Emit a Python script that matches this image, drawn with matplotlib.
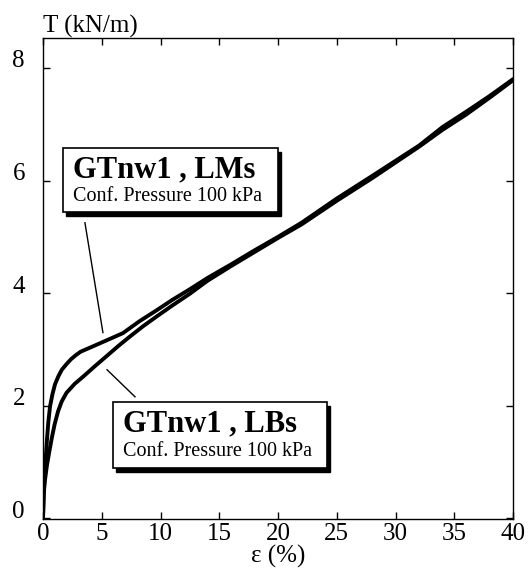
import matplotlib.pyplot as plt
import matplotlib.transforms as mtransforms
from matplotlib.patches import Rectangle

# strain (%) and tensile force (kN/m)
lms_eps = [0, 0.08, 0.18, 0.34, 0.45, 0.6, 0.8, 1.02, 1.3, 1.6, 2.0, 2.4,
           2.8, 3.2, 4.3, 5.5, 6.8, 8.2, 9.7, 11, 12.5, 14, 16, 18, 20, 22,
           25, 28, 30, 32, 34, 36, 38, 40]
lms_T = [0, 0.5, 0.9, 1.4, 1.7, 1.99, 2.2, 2.38, 2.52, 2.64, 2.74, 2.83,
         2.9, 2.96, 3.06, 3.17, 3.29, 3.5, 3.7, 3.88, 4.07, 4.27, 4.51, 4.76,
         5.0, 5.25, 5.68, 6.08, 6.35, 6.62, 6.95, 7.22, 7.5, 7.8]

lbs_eps = [0, 0.05, 0.15, 0.34, 0.55, 0.77, 1.0, 1.28, 1.6, 2.0, 2.7, 3.43,
           4.4, 5.4, 6.4, 7.4, 8.5, 9.7, 11, 12.5, 14, 16, 18, 20, 22, 25, 28,
           30, 32, 34, 36, 38, 40]
lbs_T = [0, 0.4, 0.65, 0.95, 1.2, 1.45, 1.68, 1.9, 2.08, 2.23, 2.39, 2.52,
         2.70, 2.88, 3.06, 3.23, 3.41, 3.59, 3.78, 3.99, 4.22, 4.48, 4.73,
         4.98, 5.22, 5.64, 6.04, 6.32, 6.6, 6.9, 7.17, 7.47, 7.78]

x_ticks = [0, 5, 10, 15, 20, 25, 30, 35, 40]
y_ticks = [0, 2, 4, 6, 8]

plt.rcParams['font.family'] = ['Liberation Serif', 'DejaVu Serif']

fig = plt.figure(figsize=(5.30, 5.74), dpi=100)
ax = fig.add_axes([0.0811, 0.0958, 0.887, 0.838])

ax.plot(lms_eps, lms_T, color='black', lw=2.8, solid_capstyle='round')
ax.plot(lbs_eps, lbs_T, color='black', lw=2.8, solid_capstyle='round')

ax.set_xlim(0, 40)
ax.set_ylim(-0.01, 8.53)
ax.set_xticks(x_ticks)
ax.set_yticks(y_ticks)
ax.tick_params(direction='in', top=True, right=True, length=5, width=1,
               labelsize=18)
ax.tick_params(axis='x', pad=3)
ax.tick_params(axis='y', pad=13)
for sp in ax.spines.values():
    sp.set_linewidth(1.0)

# y tick labels sit a little above their ticks in the original
offset = mtransforms.ScaledTranslation(0, 0.09, fig.dpi_scale_trans)
for lab in ax.get_yticklabels():
    lab.set_transform(lab.get_transform() + offset)

ax.set_xlabel('ε (%)', fontsize=18, labelpad=0)
fig.text(43 / 530, 1 - 33 / 574, 'T (kN/m)', fontsize=18, va='baseline',
         ha='left')

# labelled boxes with drop shadow
boxes = [
    (0.0426, 0.638, 0.457, 0.133, 'GTnw1 , LMs'),
    (0.149, 0.106, 0.455, 0.137, 'GTnw1 , LBs'),
]
for x0, y0, w, h, title in boxes:
    ax.add_patch(Rectangle((x0 + 0.0065, y0 - 0.0085), w, h,
                           transform=ax.transAxes, fc='black', ec='black',
                           lw=1, zorder=4))
    ax.add_patch(Rectangle((x0, y0), w, h, transform=ax.transAxes,
                           fc='white', ec='black', lw=1.2, zorder=5))
    ax.text(x0 + 0.021, y0 + h * 0.55, title, transform=ax.transAxes,
            fontsize=22, fontweight='bold', va='baseline', ha='left',
            zorder=6)
    ax.text(x0 + 0.021, y0 + h * 0.18, 'Conf. Pressure 100 kPa',
            transform=ax.transAxes, fontsize=14.5, va='baseline', ha='left',
            zorder=6)

# leader lines
ax.plot([3.57, 5.1], [5.25, 3.3], color='black', lw=1)
ax.plot([5.45, 7.83], [2.64, 2.16], color='black', lw=1)

fig.savefig('out.png', dpi=100)
